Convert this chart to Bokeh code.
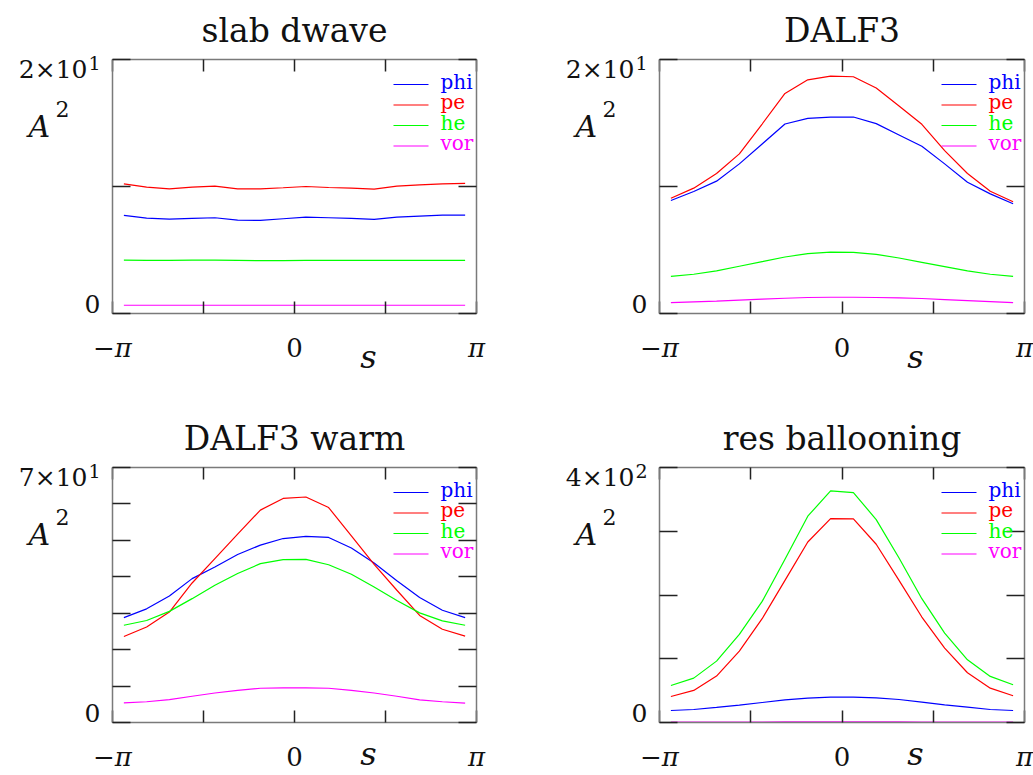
import numpy as np
from bokeh.plotting import figure
from bokeh.models import Range1d, FixedTicker, LinearAxis, Label, CustomJSTickFormatter
from bokeh.layouts import row, column
from bokeh.embed import file_html
from bokeh.resources import INLINE

PI = np.pi
N_POINTS = 16
s = np.linspace(-PI + PI / N_POINTS, PI - PI / N_POINTS, N_POINTS)

series_names = ["phi", "pe", "he", "vor"]
series_colors = ["#0000ff", "#ff0000", "#00ff00", "#ff00ff"]

titles = ["slab dwave", "DALF3", "DALF3 warm", "res ballooning"]
y_max = [20, 20, 70, 400]
y_top_mantissa = ["2×10", "2×10", "7×10", "4×10"]
y_top_exponent = ["1", "1", "1", "2"]
y_ticks = [[0, 10, 20], [0, 10, 20], [0, 10, 20, 30, 40, 50, 60, 70], [0, 100, 200, 300, 400]]
x_ticks = [-PI, -PI / 2, 0, PI / 2, PI]
x_label_pos = [-PI, 0, PI]
x_label_text = ["−π", "0", "π"]

# slab dwave
slab_phi = [7.72, 7.51, 7.43, 7.49, 7.54, 7.36, 7.33, 7.46, 7.59, 7.54, 7.49, 7.41, 7.59, 7.67, 7.75, 7.75]
slab_pe = [10.21, 9.95, 9.82, 9.95, 10.03, 9.82, 9.82, 9.90, 10.0, 9.92, 9.87, 9.79, 10.03, 10.13, 10.21, 10.24]
slab_he = [4.21, 4.19, 4.19, 4.20, 4.20, 4.18, 4.16, 4.17, 4.18, 4.19, 4.18, 4.18, 4.18, 4.19, 4.18, 4.19]
slab_vor = [0.65, 0.65, 0.65, 0.65, 0.65, 0.65, 0.65, 0.65, 0.65, 0.65, 0.65, 0.65, 0.65, 0.65, 0.65, 0.65]

# DALF3
dalf_phi = [8.90, 9.61, 10.42, 11.78, 13.35, 14.92, 15.37, 15.47, 15.47, 14.95, 14.06, 13.17, 11.78, 10.34, 9.42, 8.64]
dalf_pe = [9.08, 9.87, 11.02, 12.57, 14.92, 17.33, 18.40, 18.69, 18.64, 17.75, 16.34, 14.90, 12.83, 11.02, 9.63, 8.80]
dalf_he = [2.93, 3.09, 3.35, 3.72, 4.08, 4.45, 4.71, 4.84, 4.82, 4.66, 4.37, 4.03, 3.69, 3.35, 3.09, 2.93]
dalf_vor = [0.86, 0.92, 0.97, 1.05, 1.13, 1.20, 1.26, 1.28, 1.28, 1.26, 1.23, 1.18, 1.10, 1.02, 0.94, 0.86]

# DALF3 warm
warm_phi = [28.8, 31.2, 34.7, 39.5, 42.7, 46.1, 48.7, 50.5, 51.1, 50.8, 47.9, 43.8, 38.9, 34.3, 30.8, 28.8]
warm_pe = [23.6, 26.2, 30.3, 38.3, 45.0, 51.7, 58.3, 61.5, 61.9, 59.0, 51.2, 43.4, 36.3, 29.4, 25.6, 23.7]
warm_he = [26.7, 28.0, 30.5, 34.0, 37.7, 40.9, 43.6, 44.7, 44.8, 43.3, 40.7, 37.2, 33.5, 30.1, 27.9, 26.7]
warm_vor = [5.4, 5.7, 6.3, 7.2, 8.1, 8.8, 9.4, 9.5, 9.5, 9.4, 8.8, 8.1, 7.2, 6.2, 5.7, 5.3]

# res ballooning
res_phi = [18.8, 20.4, 23.6, 27.2, 31.4, 35.6, 38.2, 39.8, 39.8, 38.7, 36.1, 31.9, 27.7, 24.1, 20.4, 18.8]
res_pe = [40.8, 50.3, 72.8, 112.0, 162.8, 223.0, 283.2, 319.9, 319.4, 279.6, 223.0, 165.4, 116.8, 78.0, 53.9, 41.9]
res_he = [58.1, 69.6, 96.3, 138.2, 190.0, 256.0, 323.6, 363.4, 360.7, 318.3, 258.0, 194.2, 140.3, 98.4, 72.3, 59.2]
res_vor = [0.5, 0.5, 0.6, 0.7, 0.8, 0.9, 1.0, 1.0, 1.0, 1.0, 0.9, 0.8, 0.7, 0.6, 0.5, 0.5]

panel_data = [
    [slab_phi, slab_pe, slab_he, slab_vor],
    [dalf_phi, dalf_pe, dalf_he, dalf_vor],
    [warm_phi, warm_pe, warm_he, warm_vor],
    [res_phi, res_pe, res_he, res_vor],
]

# figure width/height, box left/top offsets and box width/height (pixels)
geoms = [
    (520, 400, 112, 59, 364, 254),
    (513, 400, 139, 59, 365, 254),
    (520, 375, 112, 67, 364, 255),
    (513, 375, 139, 67, 365, 255),
]

SERIF = "DejaVu Serif"
TEXT_COLOR = "#111111"
BOX_COLOR = "#7a7a7a"
TICK_COLOR = "#222222"
BASELINE_FIX = 0.37   # empirical shift of Bokeh's alphabetic baseline (in em)


def make_panel(i):
    W, H, bl, bt, bw, bh = geoms[i]
    ymax = y_max[i]
    ux = 2 * PI / bw       # data units per pixel (x)
    uy = ymax / bh         # data units per pixel (y)
    bb = H - bt - bh
    br = W - bl - bw
    p = figure(width=W, height=H, title=None,
               x_range=Range1d(-PI - bl * ux, PI + br * ux),
               y_range=Range1d(-bb * uy, ymax + bt * uy),
               output_backend="svg", toolbar_location=None,
               x_axis_location=None, y_axis_location=None,
               min_border=0)
    p.grid.visible = False
    p.outline_line_color = None
    p.background_fill_color = "white"
    p.border_fill_color = "white"

    blank = CustomJSTickFormatter(code="return ''")

    def add_axis(side, ticks, loc, bounds, tick_len):
        ax = LinearAxis(ticker=FixedTicker(ticks=ticks, minor_ticks=[]),
                        formatter=blank, fixed_location=loc, bounds=bounds,
                        axis_line_color=BOX_COLOR, axis_line_width=1.5,
                        major_tick_in=tick_len, major_tick_out=0,
                        major_tick_line_color=TICK_COLOR, major_tick_line_width=1.5,
                        minor_tick_line_color=None, major_label_standoff=0)
        p.add_layout(ax, side)

    add_axis("left", y_ticks[i], -PI, (0, ymax), 18)
    add_axis("right", y_ticks[i], PI, (0, ymax), 18)
    add_axis("below", x_ticks, 0, (-PI, PI), 12)
    add_axis("above", x_ticks, ymax, (-PI, PI), 12)

    for vals, col in zip(panel_data[i], series_colors):
        p.line(s, vals, line_color=col, line_width=1.2)

    # text helpers: dx from box left, dy (baseline) upward from box bottom, pixels
    def xd(dx):
        return -PI + dx * ux

    def yd(dy):
        return dy * uy

    def lab(dx, dy, text, fs, align="left", style="normal", color=TEXT_COLOR):
        p.add_layout(Label(x=xd(dx), y=yd(dy + BASELINE_FIX * fs), text=text,
                           text_font=SERIF, text_font_size=f"{fs}px", text_font_style=style,
                           text_align=align, text_baseline="alphabetic", text_color=color))

    lab(bw / 2, bh + 17, titles[i], 33, align="center")
    # y tick labels
    lab(-25, bh - 19.5, y_top_mantissa[i], 25, align="right")
    lab(-12, bh - 11, y_top_exponent[i], 19, align="right")
    lab(-12, 0, "0", 25, align="right")
    # y axis label
    lab(-84, bh - 78, "A", 30, style="italic")
    lab(-57, bh - 58, "2", 22)
    # x tick labels
    for xv, t in zip(x_label_pos, x_label_text):
        lab((xv + PI) / ux, -44, t, 26, align="center",
            style="normal" if t == "0" else "italic")
    s_off = min(55, bb - 10)
    lab(256, -s_off, "s", 32, align="center", style="italic")

    leg_offsets = [25, 45.5, 66, 86.5]
    for name, col, off in zip(series_names, series_colors, leg_offsets):
        ly = yd(bh - off)
        p.line([xd(bw - 83), xd(bw - 48)], [ly, ly], line_color=col, line_width=1.2)
        lab(bw - 36, bh - off - 4.5, name, 20, color=col)
    return p


panels = [make_panel(i) for i in range(4)]
layout = column(row(panels[0], panels[1]), row(panels[2], panels[3]))

open("out.html", "w").write(file_html(layout, INLINE))
